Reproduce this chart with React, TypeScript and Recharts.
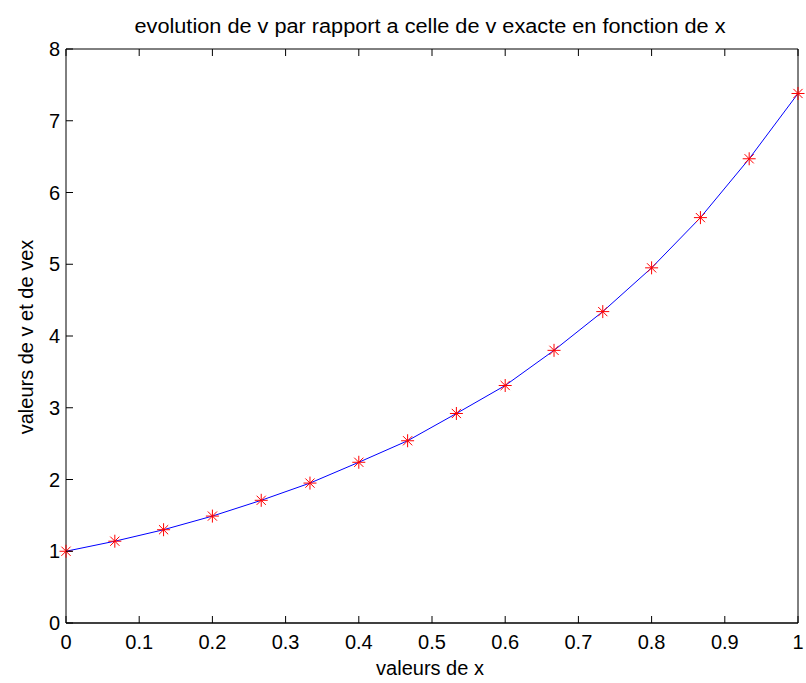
import { LineChart, Line, XAxis, YAxis } from "recharts"

const xValues = [0, 0.0667, 0.1333, 0.2, 0.2667, 0.3333, 0.4, 0.4667, 0.5333, 0.6, 0.6667, 0.7333, 0.8, 0.8667, 0.9333, 1]
const vValues = [1.0, 1.14, 1.3, 1.49, 1.71, 1.95, 2.24, 2.54, 2.92, 3.31, 3.8, 4.34, 4.95, 5.65, 6.47, 7.38]
const xTicks = [0, 0.1, 0.2, 0.3, 0.4, 0.5, 0.6, 0.7, 0.8, 0.9, 1]
const yTicks = [0, 1, 2, 3, 4, 5, 6, 7, 8]

const title = "evolution de v par rapport a celle de v exacte en fonction de x"
const xLabel = "valeurs de x"
const yLabel = "valeurs de v et de vex"

const data = xValues.map((x, i) => ({ x, v: vValues[i] }))

const FONT = '"Liberation Sans", Arial, Helvetica, sans-serif'
const TICK_LEN = 7

function BottomTick({ x, y, payload }: any) {
  return (
    <g>
      <line x1={x} y1={y} x2={x} y2={y - TICK_LEN} stroke="#000" strokeWidth={1} />
      <text x={x} y={y + 26} textAnchor="middle" fontFamily={FONT} fontSize={20} fill="#000">
        {String(payload.value)}
      </text>
    </g>
  )
}

function TopTick({ x, y }: any) {
  return <line x1={x} y1={y} x2={x} y2={y + TICK_LEN} stroke="#000" strokeWidth={1} />
}

function LeftTick({ x, y, payload }: any) {
  return (
    <g>
      <line x1={x} y1={y} x2={x + TICK_LEN} y2={y} stroke="#000" strokeWidth={1} />
      <text x={x - 6} y={y + 7} textAnchor="end" fontFamily={FONT} fontSize={20} fill="#000">
        {String(payload.value)}
      </text>
    </g>
  )
}

function RightTick({ x, y }: any) {
  return <line x1={x} y1={y} x2={x - TICK_LEN} y2={y} stroke="#000" strokeWidth={1} />
}

function Star({ cx, cy, index }: any) {
  if (cx == null || cy == null) return <g key={index} />
  const r = 6.5
  const d = 4.6
  return (
    <g key={index} stroke="#ff0000" strokeWidth={1}>
      <line x1={cx - r} y1={cy} x2={cx + r} y2={cy} />
      <line x1={cx} y1={cy - r} x2={cx} y2={cy + r} />
      <line x1={cx - d} y1={cy - d} x2={cx + d} y2={cy + d} />
      <line x1={cx - d} y1={cy + d} x2={cx + d} y2={cy - d} />
    </g>
  )
}

export default function App() {
  return (
    <div style={{ position: "absolute", left: 0, top: 0, width: 806, height: 683, background: "#fff" }}>
      {/* axis sizes count inside the margins: top 10+39, bottom 30+30, left 60+6, right 5+3 */}
      <LineChart width={806} height={683} data={data} margin={{ top: 39, right: 3, bottom: 30, left: 6 }}>
        <XAxis
          xAxisId="bottom"
          dataKey="x"
          type="number"
          domain={[0, 1]}
          ticks={xTicks}
          interval={0}
          height={30}
          tickSize={0}
          tickMargin={0}
          tickLine={false}
          axisLine={{ stroke: "#000", strokeWidth: 1.5 }}
          tick={<BottomTick />}
        />
        <XAxis
          xAxisId="top"
          orientation="top"
          dataKey="x"
          type="number"
          domain={[0, 1]}
          ticks={xTicks}
          interval={0}
          height={10}
          tickSize={0}
          tickMargin={0}
          tickLine={false}
          axisLine={{ stroke: "#000", strokeWidth: 1 }}
          tick={<TopTick />}
        />
        <YAxis
          yAxisId="left"
          type="number"
          domain={[0, 8]}
          ticks={yTicks}
          interval={0}
          width={60}
          tickSize={0}
          tickMargin={0}
          tickLine={false}
          axisLine={{ stroke: "#000", strokeWidth: 1 }}
          tick={<LeftTick />}
        />
        <YAxis
          yAxisId="right"
          orientation="right"
          type="number"
          domain={[0, 8]}
          ticks={yTicks}
          interval={0}
          width={5}
          tickSize={0}
          tickMargin={0}
          tickLine={false}
          axisLine={{ stroke: "#000", strokeWidth: 1 }}
          tick={<RightTick />}
        />
        <Line
          xAxisId="bottom"
          yAxisId="left"
          type="linear"
          dataKey="v"
          stroke="#0000ff"
          strokeWidth={1}
          dot={Star}
          activeDot={false}
          isAnimationActive={false}
        />
      </LineChart>
      <svg
        width={806}
        height={683}
        style={{ position: "absolute", left: 0, top: 0, pointerEvents: "none" }}
      >
        <text
          x={430}
          y={33}
          textAnchor="middle"
          fontFamily={FONT}
          fontSize={20}
          textLength={591}
          lengthAdjust="spacingAndGlyphs"
          fill="#000"
        >
          {title}
        </text>
        <text x={430} y={675} textAnchor="middle" fontFamily={FONT} fontSize={20} fill="#000">
          {xLabel}
        </text>
        <text
          x={0}
          y={0}
          transform="translate(33, 337) rotate(-90)"
          textAnchor="middle"
          fontFamily={FONT}
          fontSize={20}
          fill="#000"
        >
          {yLabel}
        </text>
      </svg>
    </div>
  )
}
